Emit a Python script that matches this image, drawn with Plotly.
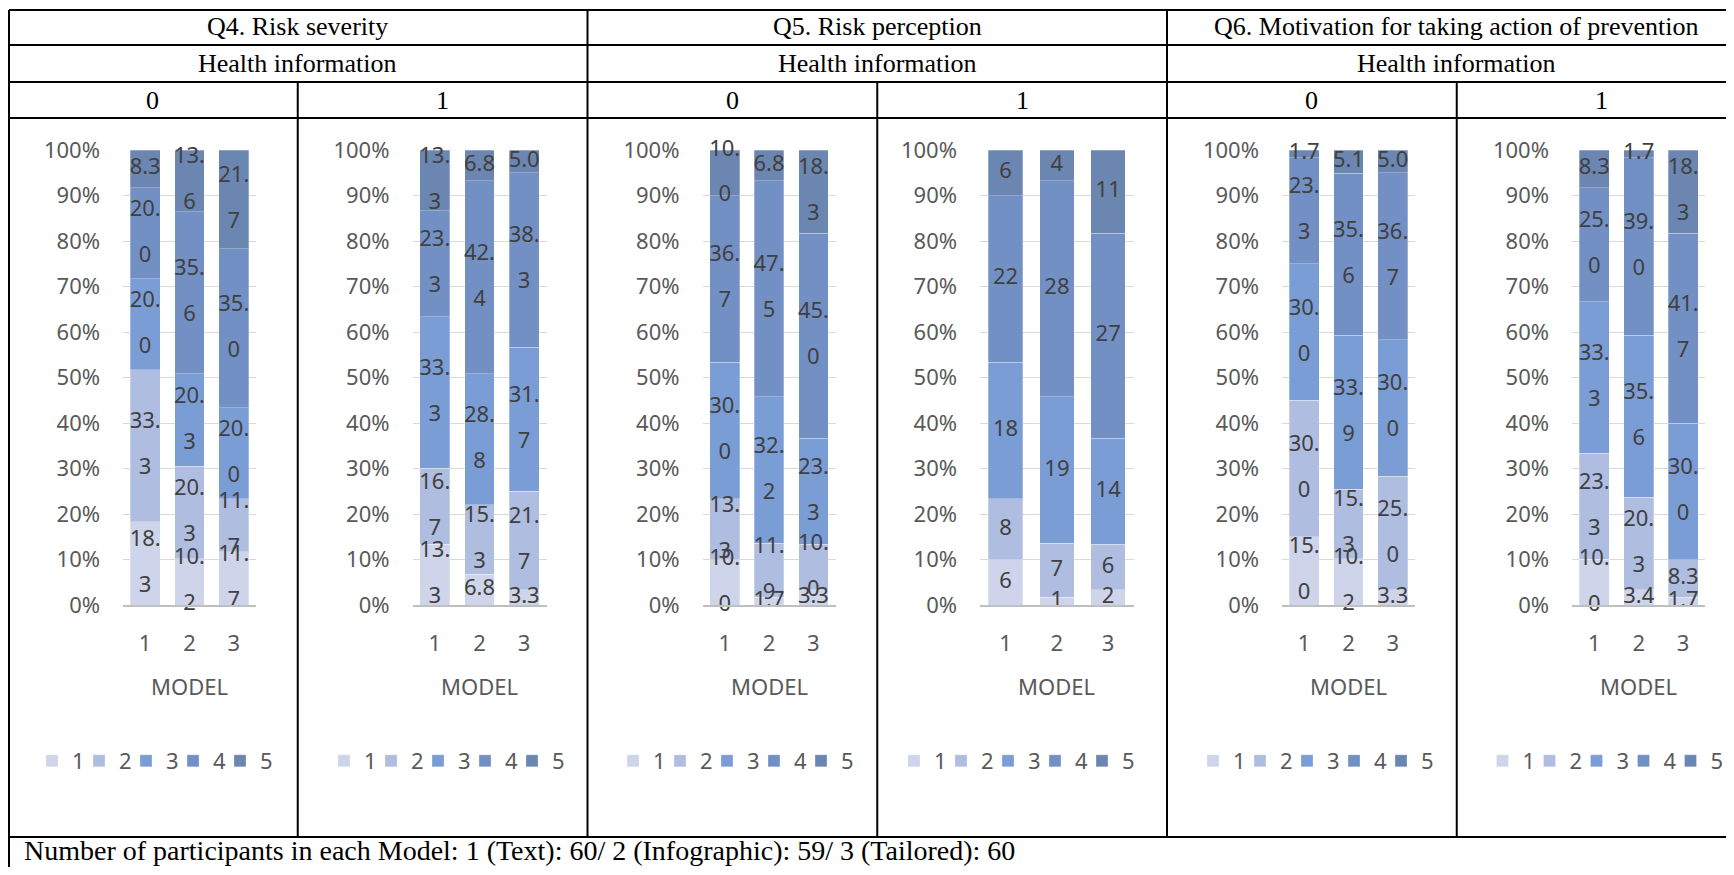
import plotly.graph_objects as go

# ---------------- data ----------------
models = ["1", "2", "3"]
levels = ["1", "2", "3", "4", "5"]
colors = ["#CED4EA", "#AFBDE0", "#7B9DD6", "#7390C5", "#6C86B2"]

questions = ["Q4. Risk severity", "Q5. Risk perception",
             "Q6. Motivation for taking action of prevention"]
group_label = "Health information"
hi_labels = ["0", "1"]
axis_title = "MODEL"
footer = "Number of participants in each Model: 1 (Text): 60/ 2 (Infographic): 59/ 3 (Tailored): 60"

# values per answer level (1..5), each list = models 1,2,3
q4_hi0 = [[18.3, 10.2, 11.7], [33.3, 20.3, 11.7], [20.0, 20.3, 20.0], [20.0, 35.6, 35.0], [8.3, 13.6, 21.7]]
q4_hi1 = [[13.3, 6.8, 3.3], [16.7, 15.3, 21.7], [33.3, 28.8, 31.7], [23.3, 42.4, 38.3], [13.3, 6.8, 5.0]]
q5_hi0 = [[10.0, 1.7, 3.3], [13.3, 11.9, 10.0], [30.0, 32.2, 23.3], [36.7, 47.5, 45.0], [10.0, 6.8, 18.3]]
q5_hi1 = [[6, 1, 2], [8, 7, 6], [18, 19, 14], [22, 28, 27], [6, 4, 11]]  # counts
q6_hi0 = [[15.0, 10.2, 3.3], [30.0, 15.3, 25.0], [30.0, 33.9, 30.0], [23.3, 35.6, 36.7], [1.7, 5.1, 5.0]]
q6_hi1 = [[10.0, 3.4, 1.7], [23.3, 20.3, 8.3], [33.3, 35.6, 30.0], [25.0, 39.0, 41.7], [8.3, 1.7, 18.3]]

panels = [q4_hi0, q4_hi1, q5_hi0, q5_hi1, q6_hi0, q6_hi1]
is_count = [False, False, False, True, False, False]

# ---------------- layout geometry (page pixels) ----------------
PAGE_OFF = 8
W, H = 1718, 859
plot_left = [123, 412.5, 702.5, 980, 1282, 1572]
plot_right = [256, 546.5, 835.6, 1133.8, 1415, 1705.4]
legend_left = [45, 337, 626, 907, 1206, 1495.5]
panel_left = [8 + 289.75 * i for i in range(7)]
Y_TOP, Y_BOT = 150, 605
LINE_GAP_PX = 46  # distance between the two lines of a wrapped data label
gap_units = (LINE_GAP_PX / 2) / ((Y_BOT - Y_TOP) / 100.0)


def px(X):
    return min(1.0, max(0.0, (X - PAGE_OFF) / W))


def py(Y):
    return min(1.0, max(0.0, 1 - (Y - PAGE_OFF) / H))


def label_parts(v, count):
    if count:
        return [str(int(v))]
    s = f"{v:.1f}"
    if len(s) > 3:
        a, b = s.split(".")
        return [a + ".", b]
    return [s]


LABEL_FONT = "Noto Sans"
SERIF = "Liberation Serif"
HEAD_SIZE = 26

fig = go.Figure()
layout = dict(
    width=W, height=H, margin=dict(l=0, r=0, t=0, b=0, autoexpand=False),
    paper_bgcolor="white", plot_bgcolor="white",
    barmode="stack", barnorm="percent", bargap=0.33,
    font=dict(family=LABEL_FONT, color="#595959", size=22),
)

annotations = []
shapes = []

for i, data in enumerate(panels):
    sfx = "" if i == 0 else str(i + 1)
    xa, ya = "x" + sfx, "y" + sfx
    lg = "legend" + sfx
    for k, lev in enumerate(levels):
        fig.add_trace(go.Bar(
            x=models, y=data[k], name=lev, xaxis=xa, yaxis=ya, legend=lg,
            marker=dict(color=colors[k], line=dict(width=0.8, color="rgba(255,255,255,0.35)")),
            legendwidth=(14 if k == len(levels) - 1 else 2),
            hoverinfo="skip",
        ))
    # data labels drawn on top of all bars, centred on each (normalised) segment
    totals = [sum(data[k][m] for k in range(len(levels))) for m in range(len(models))]
    tx, ty, tt = [], [], []
    for m in range(len(models)):
        cum = 0.0
        for k in range(len(levels)):
            share = data[k][m] / totals[m] * 100.0
            mid = cum + share / 2
            parts = label_parts(data[k][m], is_count[i])
            if len(parts) == 1:
                tx.append(models[m]); ty.append(mid); tt.append(parts[0])
            else:
                tx += [models[m], models[m]]
                ty += [min(100.0, mid + gap_units), max(0.0, mid - gap_units)]
                tt += parts
            cum += share
    fig.add_trace(go.Scatter(
        x=tx, y=ty, text=tt, mode="text", textposition="middle center",
        textfont=dict(family=LABEL_FONT, size=22, color="#404040"),
        xaxis=xa, yaxis=ya, showlegend=False, hoverinfo="skip", cliponaxis=False,
    ))
    layout["xaxis" + sfx] = dict(
        domain=[px(plot_left[i]), px(plot_right[i])], anchor=ya,
        type="category", showgrid=False, zeroline=False, automargin=False,
        showline=True, linecolor="#BFBFBF", linewidth=2,
        ticks="", ticklabelstandoff=18,
        tickfont=dict(size=22, color="#595959"), fixedrange=True,
    )
    layout["yaxis" + sfx] = dict(
        domain=[py(Y_BOT), py(Y_TOP)], anchor=xa, range=[0, 100],
        dtick=10, ticksuffix="%", showgrid=True, gridcolor="#D9D9D9",
        gridwidth=1, zeroline=False, showline=False, ticks="", automargin=False,
        ticklabelstandoff=22, tickfont=dict(size=22, color="#595959"),
        fixedrange=True,
    )
    layout[lg] = dict(
        orientation="h", x=px(legend_left[i] + 7 - 20), xanchor="left",
        y=py(761), yanchor="middle", traceorder="normal",
        bgcolor="rgba(0,0,0,0)", borderwidth=0,
        font=dict(size=22, color="#595959", family=LABEL_FONT),
        entrywidthmode="pixels",
    )
    annotations.append(dict(
        text=axis_title, xref=xa + " domain", x=0.5, yref="paper", y=py(686),
        showarrow=False, xanchor="center", yanchor="middle",
        font=dict(size=22, color="#595959", family=LABEL_FONT),
    ))
    annotations.append(dict(
        text=hi_labels[i % 2], xref="paper", x=px((panel_left[i] + panel_left[i + 1]) / 2),
        yref="paper", y=py(100), showarrow=False, xanchor="center", yanchor="middle",
        font=dict(size=HEAD_SIZE, color="black", family=SERIF),
    ))

for q in range(3):
    cx = px((panel_left[2 * q] + panel_left[2 * q + 2]) / 2)
    annotations.append(dict(text=questions[q], xref="paper", x=cx, yref="paper", y=py(27),
                            showarrow=False, xanchor="center", yanchor="middle",
                            font=dict(size=HEAD_SIZE, color="black", family=SERIF)))
    annotations.append(dict(text=group_label, xref="paper", x=cx, yref="paper", y=py(63.5),
                            showarrow=False, xanchor="center", yanchor="middle",
                            font=dict(size=HEAD_SIZE, color="black", family=SERIF)))

annotations.append(dict(text=footer, xref="paper", x=px(22), yref="paper", y=py(850),
                        showarrow=False, xanchor="left", yanchor="middle",
                        font=dict(size=28, color="black", family=SERIF)))

LINE = dict(color="black", width=2)
for Y in [10, 45, 82, 118, 837]:
    shapes.append(dict(type="line", xref="paper", yref="paper", x0=px(9), x1=1.0,
                       y0=py(Y), y1=py(Y), line=LINE))
shapes.append(dict(type="line", xref="paper", yref="paper", x0=px(9), x1=px(9),
                   y0=py(10), y1=0.0, line=LINE))
for X in [panel_left[2], panel_left[4]]:
    shapes.append(dict(type="line", xref="paper", yref="paper", x0=px(X), x1=px(X),
                       y0=py(10), y1=py(837), line=LINE))
for X in [panel_left[1], panel_left[3], panel_left[5]]:
    shapes.append(dict(type="line", xref="paper", yref="paper", x0=px(X), x1=px(X),
                       y0=py(82), y1=py(837), line=LINE))

layout["annotations"] = annotations
layout["shapes"] = shapes
fig.update_layout(**layout)

fig.write_html("out.html")
